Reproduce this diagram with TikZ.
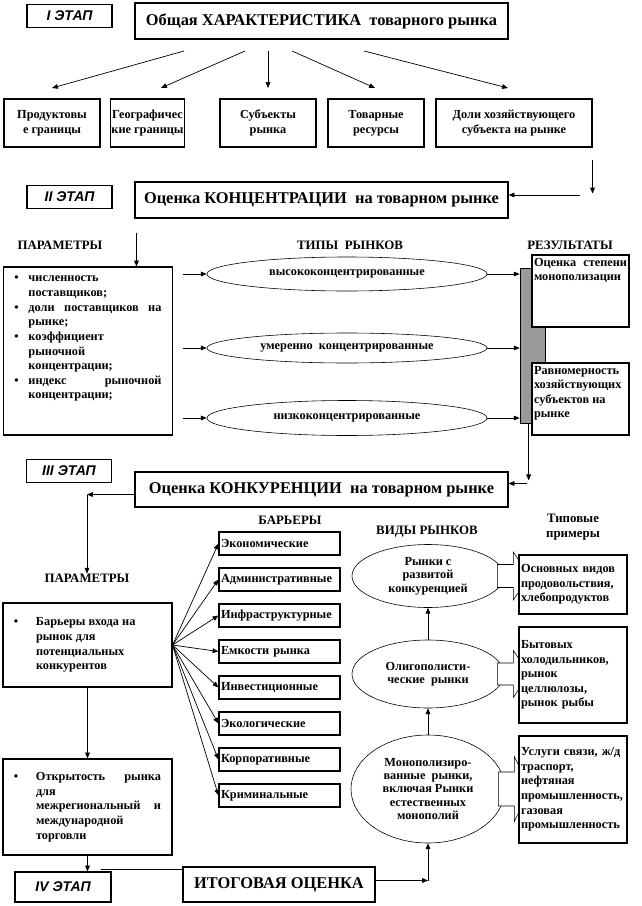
\documentclass[tikz,border=0pt]{standalone}
\usepackage{fontspec}
\setmainfont{Liberation Serif}
\newfontfamily\stagefont{Liberation Sans}
\usetikzlibrary{shapes.geometric, arrows.meta, calc}

\newcommand{\smallfs}{\fontsize{10.5}{12.5}\selectfont}
\newcommand{\titlefs}{\fontsize{14}{16}\selectfont}
\newcommand{\headfs}{\fontsize{11}{13}\selectfont}
\newcommand{\bitem}[1][4.2mm]{\par\noindent\hangindent=#1\hangafter=1\hbox to #1{\textbullet\hfil}\ignorespaces}

\tikzset{
  box/.style={draw, line width=0.9pt, fill=white, inner sep=1pt, font=\bfseries\smallfs},
  stagebox/.style={box, font=\stagefont\bfseries\itshape\fontsize{12}{14}\selectfont,
    minimum width=25.5mm, minimum height=6.9mm},
  titlebox/.style={box, font=\bfseries\titlefs, minimum width=111.9mm, minimum height=10.8mm},
  rowbox/.style={box, align=center, minimum height=14.4mm},
  barrier/.style={box, minimum width=36.3mm, minimum height=6.9mm, text width=35.1mm, align=left},
  oval/.style={ellipse, draw, line width=0.5pt, fill=white, inner sep=0pt, align=center,
    font=\bfseries\fontsize{10.5}{11.5}\selectfont},
  example/.style={box, inner xsep=0.6mm, minimum width=32.4mm, text width=31.2mm,
    font=\bfseries\fontsize{10.5}{12.4}\selectfont},
  head/.style={font=\bfseries\headfs, align=center},
  arr/.style={-{Triangle[length=5pt,width=4pt]}, line width=0.6pt},
  blk/.style={draw, line width=0.5pt, fill=white},
}

\begin{document}
\begin{tikzpicture}[x=0.3mm, y=-0.3mm]
\useasboundingbox (0,0) rectangle (641,906);

% I stage: general description
\node[stagebox] (st1) at (69.5,16) {I ЭТАП};
\node[titlebox] (t1) at (321.5,21) {Общая ХАРАКТЕРИСТИКА\ \ товарного рынка};

\node[rowbox, minimum width=28.8mm] (b1) at (52,123) {Продуктовы\\е границы};
\node[rowbox, minimum width=21.3mm] (b2) at (147.5,123) {Географичес\\кие границы};
\node[rowbox, minimum width=28.8mm] (b3) at (268,123) {Субъекты\\рынка};
\node[rowbox, minimum width=28.8mm] (b4) at (376,123) {Товарные\\ресурсы};
\node[rowbox, minimum width=46.8mm] (b5) at (514,123) {Доли хозяйствующего\\субъекта на рынке};

\foreach \sx/\ex [count=\i] in {184/52, 245/161, 268/268, 292/375, 364/508} {
  \coordinate (a\i) at (\sx,51);
  \coordinate (z\i) at (\ex,88);
  \draw[arr] (a\i) -- (z\i);
}

% II stage: concentration
\node[stagebox] (st2) at (69.5,197) {II ЭТАП};
\node[titlebox] (t2) at (321.5,200) {Оценка КОНЦЕНТРАЦИИ\ \ на товарном рынке};

\draw[arr] ($(b5.south east)+(0,12)$) -- ++(0,34);
\coordinate (k2) at ($(t2.east)+(71,-5)$);
\draw[arr] (k2) -- (k2 -| t2.east);

\node[head] (p2lab) at (60,245) {ПАРАМЕТРЫ};
\node[head] (tylab) at (350,245) {ТИПЫ\ \ РЫНКОВ};
\node[head] (rslab) at (570,245) {РЕЗУЛЬТАТЫ};

\node[box, inner xsep=3.3mm, inner ysep=2.7mm] (p2) at (88,351)
  {\parbox[c][45mm][t]{44.1mm}{%
    \bitem численность\newline поставщиков;
    \bitem доли поставщиков на\linebreak рынке;
    \bitem коэффициент\newline рыночной\newline концентрации;
    \bitem индекс рыночной\linebreak концентрации;}};

\coordinate (k2b) at ($(t2.south west)+(2,14)$);
\draw[arr] (k2b) -- (k2b |- p2.north);

\node[oval, minimum width=84mm, minimum height=10.2mm] (ty1) at (347,274) {высококонцентрированные};
\node[oval, minimum width=84mm, minimum height=9mm] (ty2) at (347,348) {умеренно\ \ концентрированные};
\node[oval, minimum width=84mm, minimum height=10.5mm] (ty3) at (347,418) {низкоконцентрированные};

\node[draw, line width=0.6pt, fill=gray!80, minimum width=7.5mm, minimum height=46.5mm,
  inner sep=0pt] (bar) at (532.5,345.5) {};

\foreach \i in {1,2,3} {
  \draw[arr] ($(ty\i.west)+(-24,0)$) -- (ty\i.west);
  \draw[arr] (ty\i.east) -- (ty\i.east -| bar.west);
}

\node[box, inner xsep=0.6mm, inner ysep=0.9mm] (r1) at (580.5,291)
  {\parbox[c][19.8mm][t]{27.9mm}{Оценка степени\linebreak монополизации}};
\node[box, inner xsep=0.6mm, inner ysep=0.9mm] (r2) at (580.5,399)
  {\parbox[c][19.8mm][t]{27.9mm}{Равномерность\newline хозяйствующих\newline субъектов на\newline рынке}};

% III stage: competition
\node[stagebox] (st3) at (69,471) {III ЭТАП};
\node[titlebox, minimum height=10.5mm] (t3) at (321.5,489.5) {Оценка КОНКУРЕНЦИИ\ \ на товарном рынке};

\coordinate (k3) at ($(bar.south west)+(9,0)$);
\draw[arr] (k3) -- ++(0,57);
\coordinate (k3b) at ($(t3.east)+(18,-6)$);
\draw[arr] (k3b) -- (k3b -| t3.east);

\node[head] (p3lab) at (87,578) {ПАРАМЕТРЫ};
\coordinate (k3c) at ($(t3.west)+(0,5)$);
\draw[arr] (k3c) -- (k3c -| p3lab.north);
\draw[arr] (k3c -| p3lab.north) -- ($(p3lab.north)+(0,4)$);

\node[box, inner xsep=3.3mm, minimum width=50.7mm, minimum height=25.2mm] (p3a) at (87.5,645)
  {\parbox{44.1mm}{\bitem[6.6mm] Барьеры входа на\newline рынок для\newline потенциальных\newline конкурентов}};
\node[box, inner xsep=3.3mm, minimum width=50.7mm, minimum height=28.8mm] (p3b) at (87.5,807)
  {\parbox{44.1mm}{\bitem[6.6mm] Открытость рынка\linebreak для\newline межрегиональный и\linebreak международной\newline торговли}};
\draw[arr] (p3a.south) -- (p3b.north);

\node[head] (brlab) at (290,520) {БАРЬЕРЫ};
\foreach \txt [count=\i] in {Экономические, Административные, Инфраструктурные, Емкости рынка,
    Инвестиционные, Экологические, Корпоративные, Криминальные} {
  \node[barrier] (br\i) at (279.5,{543.5+36*(\i-1)}) {\txt};
  \draw[arr] (p3a.east) -- (br\i.west);
}

\node[head] (vdlab) at (427,532) {ВИДЫ РЫНКОВ};
\node[head] (exlab) at (573,527) {Типовые\\примеры};

\node[oval, minimum width=45.6mm, minimum height=18.9mm] (m1) at (428,576) {Рынки\ с\\развитой\\конкуренцией};
\node[oval, minimum width=45.6mm, minimum height=20.4mm] (m2) at (428,674) {Олигополисти-\\ческие\ \ рынки};
\node[oval, minimum width=46.2mm, minimum height=32.4mm] (m3) at (428,789)
  {Монополизиро-\\ванные\ \ рынки,\\включая Рынки\\естественных\\монополий};
\draw[arr] (m3.north) -- (m2.south);
\draw[arr] (m2.north) -- (m1.south);

\foreach \m/\sh/\hh in {m1/11.5/24, m2/11/23.5, m3/17/32.5}
  \draw[blk] (\m.east) ++(-7,-\sh) -- ++(16,0) -- ++(0,\sh-\hh) -- ++(16,\hh)
    -- ++(-16,\hh) -- ++(0,\sh-\hh) -- ++(-16,0) -- cycle;

\node[example, minimum height=17.7mm] (x1) at (573,584.5)
  {Основных видов\linebreak продовольствия,\newline хлебопродуктов};
\node[example, minimum height=28.8mm] (x2) at (573,675)
  {Бытовых\newline холодильников,\newline рынок\newline целлюлозы,\newline рынок рыбы};
\node[example, minimum height=32.1mm] (x3) at (573,789.5)
  {Услуги связи, ж/д\linebreak траспорт,\newline нефтяная\newline промышленность,\newline газовая\newline промышленность};

% IV stage: final assessment
\node[stagebox, minimum width=28.8mm, minimum height=9mm] (st4) at (63,887) {IV ЭТАП};
\node[titlebox, minimum width=57.6mm, minimum height=10.5mm] (it) at (279,884.5) {ИТОГОВАЯ ОЦЕНКА};
\draw[arr] (p3b.south) -- (p3b.south |- st4.north);

\coordinate (k4) at ($(st4.north east)+(-11,-2)$);
\draw (k4) -- (k4 -| it.west);
\coordinate (k5) at ($(it.east)+(0,-4)$);
\coordinate (k6) at (k5 -| m3.south);
\draw[arr] (k5) -- (k6);
\draw[arr] (k6) -- (m3.south);
\end{tikzpicture}
\end{document}
